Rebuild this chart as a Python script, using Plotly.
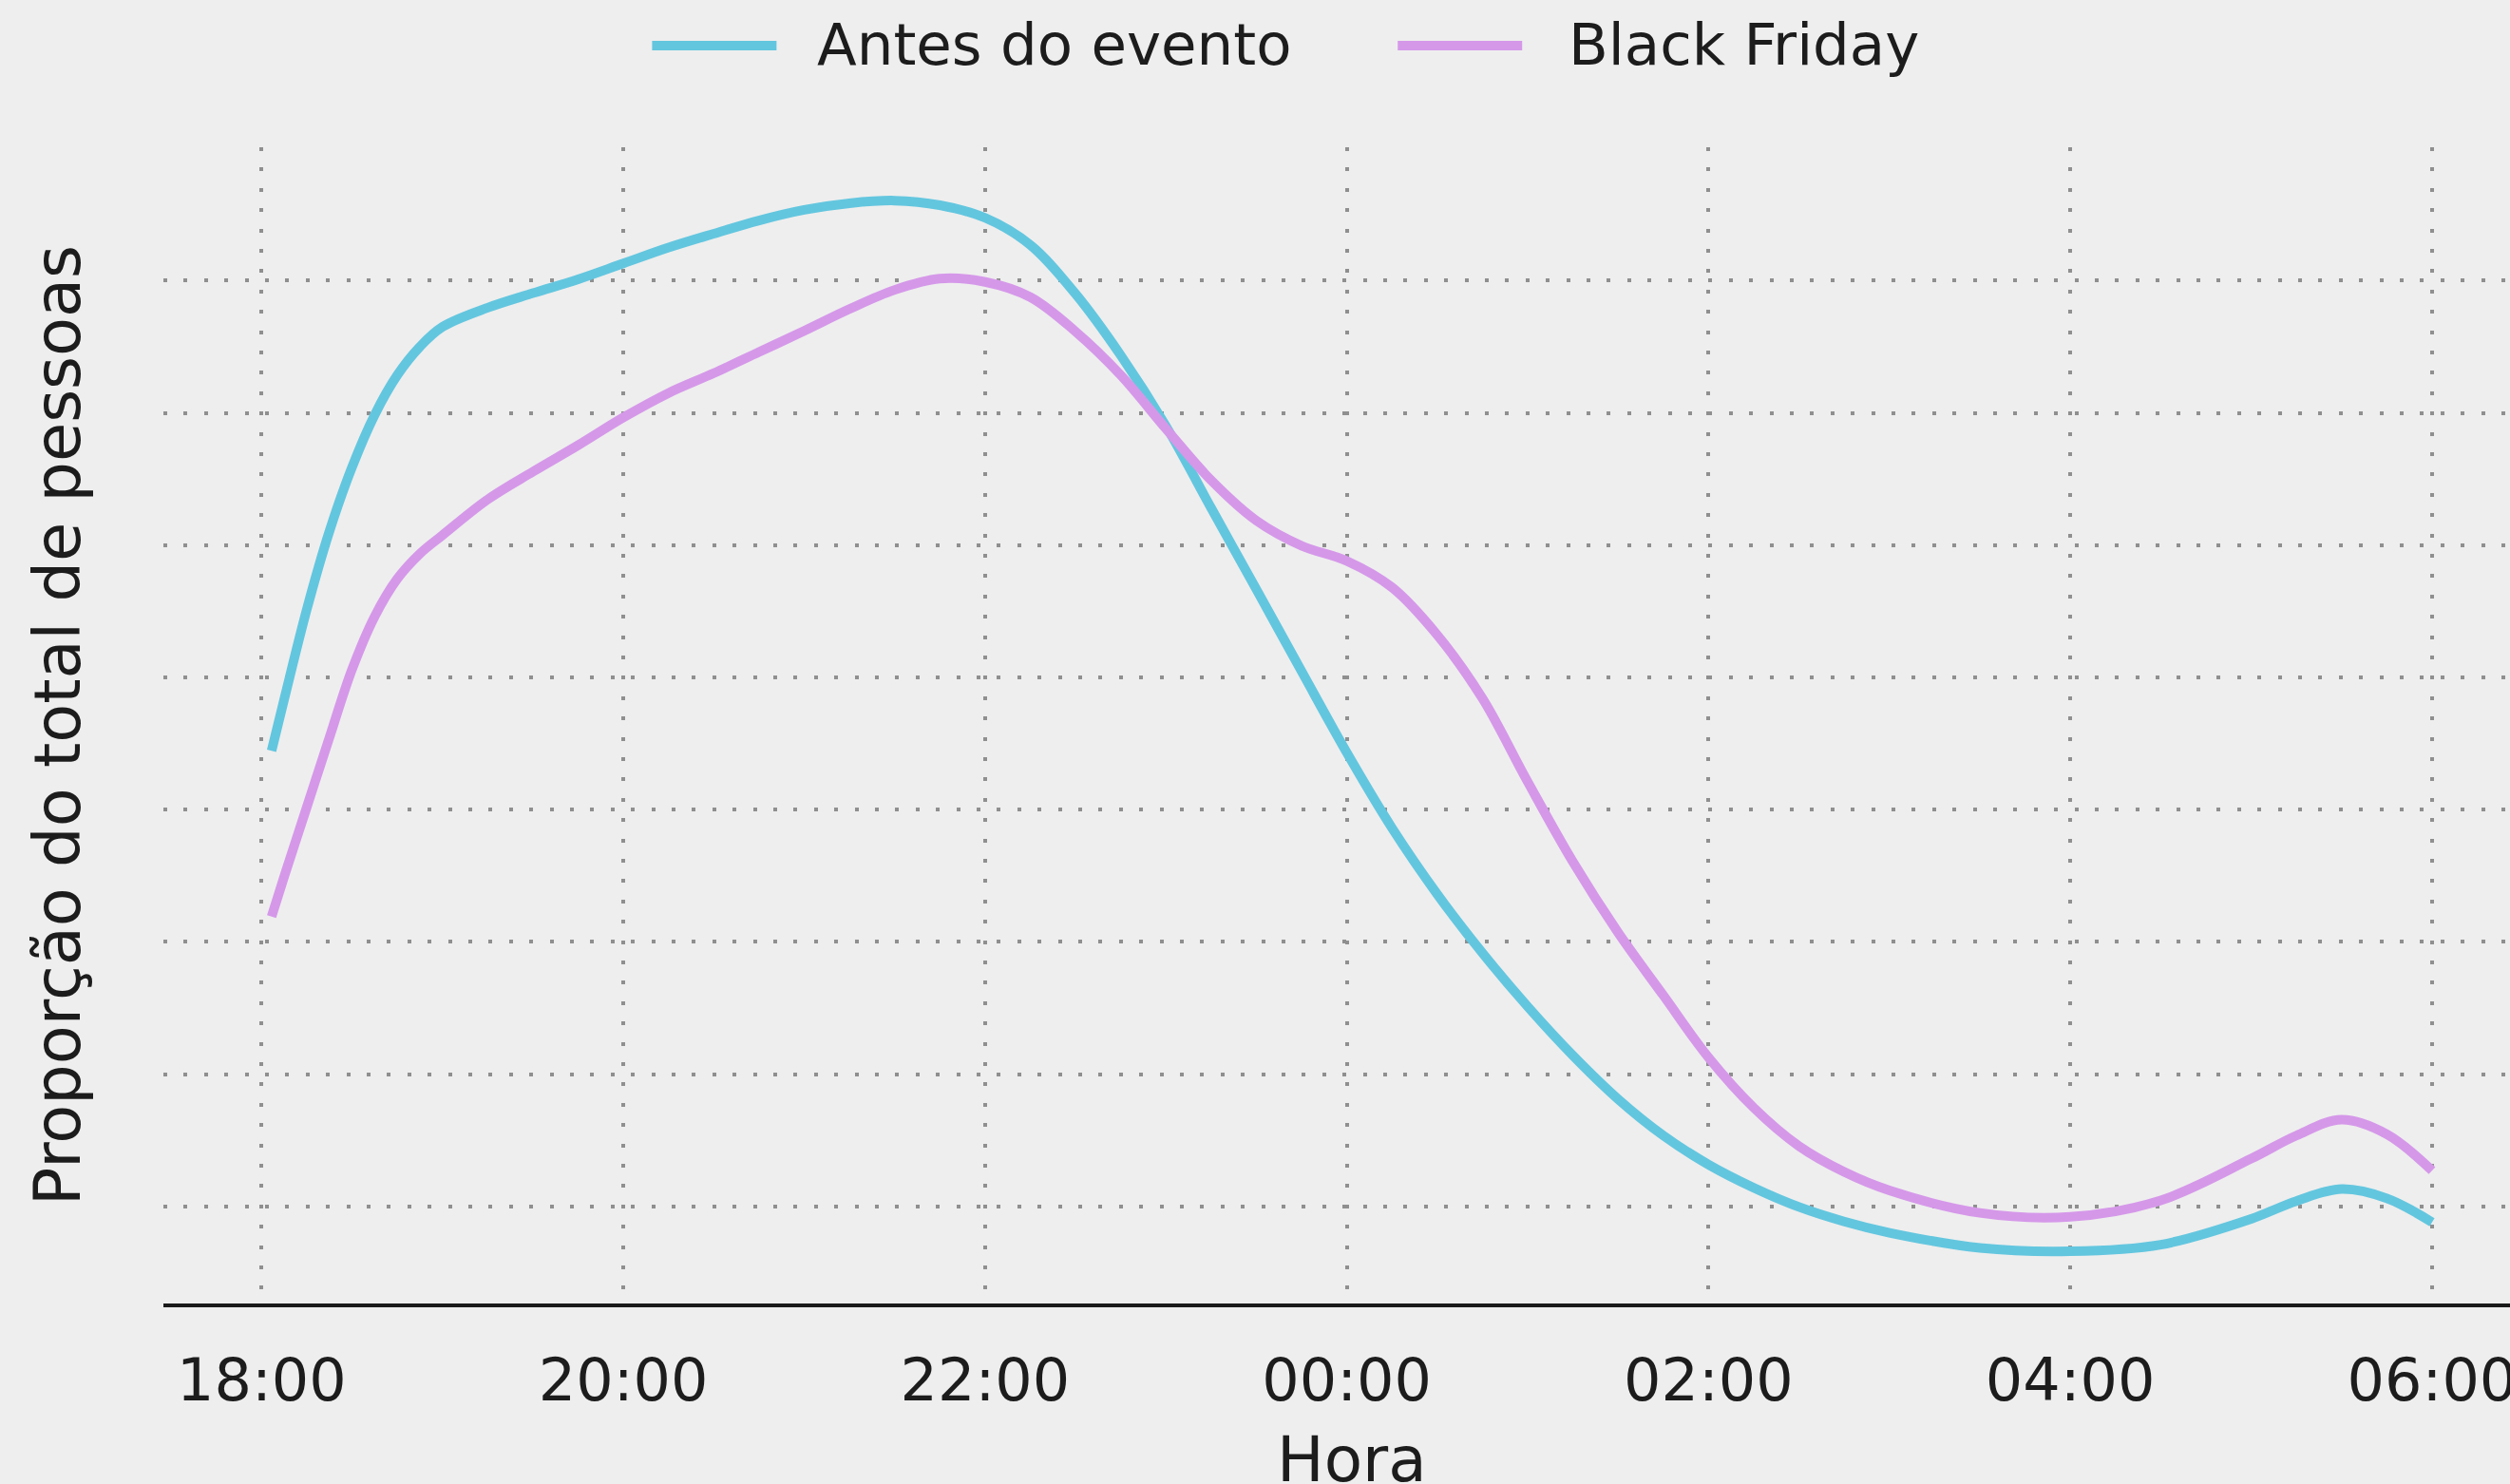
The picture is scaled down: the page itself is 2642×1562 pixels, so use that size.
import plotly.graph_objects as go

# ---- data (hours; values after midnight are +24) ----
hours = [18.055, 18.125, 18.25, 18.375, 18.5, 18.625, 18.75, 18.875, 19.0, 19.25, 19.5, 19.75,
         20.0, 20.25, 20.5, 20.75, 21.0, 21.25, 21.5, 21.75, 22.0, 22.25, 22.5, 22.75,
         23.0, 23.25, 23.5, 23.75, 24.0, 24.25, 24.5, 24.75, 25.0, 25.25, 25.5, 25.75,
         26.0, 26.25, 26.5, 26.75, 27.0, 27.5, 28.0, 28.5, 29.0, 29.25, 29.5, 29.75, 30.0]

antes = [0.0889, 0.0967, 0.1103, 0.1221, 0.1318, 0.1397, 0.1457, 0.1500, 0.1530, 0.1559, 0.1581, 0.1602,
         0.1626, 0.1650, 0.1671, 0.1691, 0.1707, 0.1717, 0.1721, 0.1714, 0.1695, 0.1654, 0.1580, 0.1487,
         0.1380, 0.1256, 0.1133, 0.1009, 0.0886, 0.0772, 0.0672, 0.0583, 0.0502, 0.0428, 0.0362, 0.0307,
         0.0263, 0.0228, 0.0199, 0.0177, 0.0160, 0.0137, 0.0132, 0.0142, 0.0181, 0.0208, 0.0226, 0.0212, 0.0176]

black_friday = [0.0638, 0.0699, 0.0804, 0.0909, 0.1012, 0.1092, 0.1149, 0.1187, 0.1215, 0.1269, 0.1311, 0.1351,
                0.1393, 0.1430, 0.1460, 0.1492, 0.1524, 0.1557, 0.1586, 0.1603, 0.1598, 0.1575, 0.1523, 0.1457,
                0.1376, 0.1298, 0.1237, 0.1199, 0.1176, 0.1136, 0.1064, 0.0968, 0.0842, 0.0721, 0.0614, 0.0519,
                0.0425, 0.0349, 0.0291, 0.0252, 0.0224, 0.0190, 0.0184, 0.0209, 0.0272, 0.0307, 0.0331, 0.0309, 0.0254]

tick_vals = [18, 20, 22, 24, 26, 28, 30]
tick_text = ["18:00", "20:00", "22:00", "00:00", "02:00", "04:00", "06:00"]
y_grid = [0.02, 0.04, 0.06, 0.08, 0.10, 0.12, 0.14, 0.16]

series_names = ["Antes do evento", "Black Friday"]
colors = ["#63C6DF", "#D598E9"]
x_title = "Hora"
y_title = "Proporção do total de pessoas"

FONT = "DejaVu Sans"
TXT = "#1c1c1c"
BG = "#EEEEEE"

W, H = 2642, 1562
ML, MR, MT, MB = 171.5, 0, 155, 190
PW = W - ML - MR
PH = H - MT - MB

def px_x(px):
    return (px - ML) / PW

def px_y(py):
    return (H - MB - py) / PH

fig = go.Figure()
for name, ys, c in zip(series_names, [antes, black_friday], colors):
    fig.add_trace(go.Scatter(x=hours, y=ys, name=name, mode="lines",
                             line=dict(color=c, width=10, shape="spline", smoothing=1.0),
                             showlegend=False, hoverinfo="skip"))

# manual legend (long line samples as in the original)
legend_items = [(686, 817, 861), (1471, 1602, 1652)]
for (x0, x1, tx), name, c in zip(legend_items, series_names, colors):
    fig.add_shape(type="line", xref="paper", yref="paper",
                  x0=px_x(x0), x1=px_x(x1), y0=px_y(48), y1=px_y(48),
                  line=dict(color=c, width=10))
    fig.add_annotation(xref="paper", yref="paper", x=px_x(tx - 3), y=px_y(47),
                       xanchor="left", yanchor="middle", showarrow=False,
                       text=name, font=dict(family=FONT, size=61, color=TXT))

# x-axis title, centred on the (clipped) full axes width as in the original
fig.add_annotation(xref="paper", yref="paper", x=px_x(1423), y=px_y(1536),
                   xanchor="center", yanchor="middle", showarrow=False,
                   text=x_title, font=dict(family=FONT, size=66, color=TXT))

fig.update_layout(
    width=W, height=H,
    margin=dict(l=ML, r=MR, t=MT, b=MB, pad=0),
    paper_bgcolor=BG, plot_bgcolor=BG,
    font=dict(family=FONT, color=TXT),
    showlegend=False,
)

fig.update_xaxes(
    range=[17.457, 30.431], tickvals=tick_vals, ticktext=tick_text,
    tickfont=dict(family=FONT, size=62, color=TXT),
    ticks="", ticklabelstandoff=24, ticklabeloverflow="allow", automargin=False,
    showgrid=True, gridcolor="#8f8f8f", gridwidth=4, griddash="4px,17.4px",
    showline=True, linecolor="#1a1a1a", linewidth=4,
    zeroline=False,
)
fig.update_yaxes(
    range=[0.0053, 0.18017], tickvals=y_grid, showticklabels=False, automargin=False,
    showgrid=True, gridcolor="#8f8f8f", gridwidth=4, griddash="4px,17.4px",
    showline=False, zeroline=False, ticks="",
    title=dict(text=y_title, font=dict(family=FONT, size=67, color=TXT), standoff=64),
)

fig.write_html("out.html", config={"displayModeBar": False},
               post_script="document.body.style.margin='0';document.body.style.overflow='hidden';")
